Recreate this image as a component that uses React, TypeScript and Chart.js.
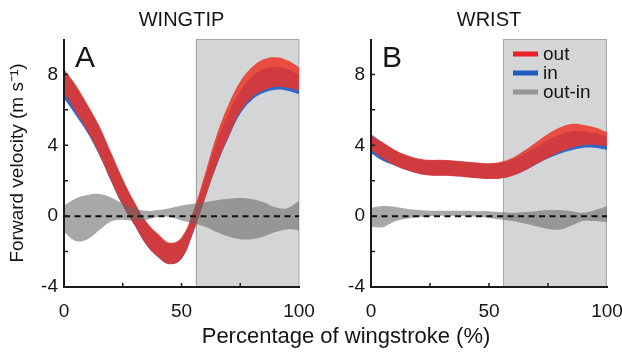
import React, { useEffect, useRef } from 'react';
import { Chart, registerables } from 'chart.js';

Chart.register(...registerables);

const FONT = '"Liberation Sans", Arial, Helvetica, sans-serif';

// ---- data ----
const xs = [0, 5, 10, 15, 20, 25, 30, 35, 40, 45, 50, 55, 60, 65, 70, 75, 80, 85, 90, 95, 100];

const wingtipOutUpper = [8.3, 7.4, 6.3, 5.1, 3.6, 2.1, 0.8, -0.3, -1.0, -1.5, -1.2, 0.3, 2.4, 4.6, 6.3, 7.6, 8.4, 8.85, 8.97, 8.8, 8.4];
const wingtipOutLower = [7.0, 5.9, 4.8, 3.5, 2.0, 0.6, -0.5, -1.6, -2.3, -2.7, -2.4, -0.9, 1.0, 2.9, 4.5, 5.9, 6.7, 7.1, 7.3, 7.25, 7.1];
const wingtipInUpper = [8.25, 7.35, 6.25, 5.05, 3.55, 2.05, 0.75, -0.35, -1.05, -1.55, -1.25, 0.15, 2.15, 4.2, 5.8, 7.05, 7.85, 8.3, 8.42, 8.3, 7.95];
const wingtipInLower = [6.65, 5.7, 4.7, 3.45, 1.97, 0.58, -0.52, -1.62, -2.32, -2.72, -2.42, -0.92, 0.98, 2.86, 4.42, 5.78, 6.56, 6.96, 7.14, 7.08, 6.88];
const wingtipDiffUpper = [0.6, 1.0, 1.2, 1.25, 1.05, 0.7, 0.45, 0.3, 0.35, 0.45, 0.6, 0.7, 0.78, 0.9, 0.98, 1.02, 0.95, 0.78, 0.5, 0.45, 0.85];
const wingtipDiffLower = [-0.9, -1.4, -1.3, -0.8, -0.3, -0.2, -0.25, -0.2, -0.05, -0.05, -0.25, -0.4, -0.6, -0.9, -1.15, -1.3, -1.3, -1.15, -0.9, -0.75, -0.8];

const wristOutUpper = [4.55, 4.17, 3.75, 3.45, 3.26, 3.18, 3.18, 3.14, 3.09, 3.03, 2.99, 3.07, 3.3, 3.7, 4.17, 4.64, 5.0, 5.2, 5.15, 5.0, 4.73];
const wristOutLower = [3.75, 3.25, 2.88, 2.6, 2.4, 2.3, 2.28, 2.25, 2.2, 2.14, 2.1, 2.13, 2.28, 2.56, 2.94, 3.3, 3.62, 3.85, 4.0, 4.02, 3.95];
const wristInUpper = [4.62, 4.15, 3.72, 3.42, 3.23, 3.15, 3.15, 3.11, 3.06, 3.0, 2.96, 3.02, 3.2, 3.52, 3.9, 4.3, 4.6, 4.78, 4.78, 4.68, 4.5];
const wristInLower = [3.55, 3.12, 2.86, 2.6, 2.41, 2.31, 2.29, 2.26, 2.21, 2.15, 2.11, 2.14, 2.29, 2.56, 2.92, 3.25, 3.52, 3.72, 3.86, 3.86, 3.74];
const wristDiffUpper = [0.47, 0.57, 0.53, 0.42, 0.34, 0.3, 0.3, 0.3, 0.3, 0.28, 0.28, 0.23, 0.19, 0.23, 0.28, 0.34, 0.34, 0.28, 0.19, 0.34, 0.57];
const wristDiffLower = [-0.6, -0.62, -0.3, -0.15, -0.05, 0.0, 0.02, 0.02, 0.0, -0.02, -0.1, -0.19, -0.28, -0.42, -0.57, -0.72, -0.76, -0.53, -0.28, -0.28, -0.34];

const seriesLabels = ['out', 'in', 'out-in'];
const panelTitles = ['WINGTIP', 'WRIST'];
const panelLetters = ['A', 'B'];
const xTickLabels = [0, 50, 100];
const yTickLabels = [-4, 0, 4, 8];
const xRange = [0, 100];
const yRange = [-4, 10];
const shadeRange = [56, 100];
const zeroLine = [0, 0];
const yAxisTitle = 'Forward velocity (m s\u207B\u00B9)';
const xAxisTitle = 'Percentage of wingstroke (%)';

// ---- styles ----
const COLORS = {
  outFill: 'rgba(236,52,38,0.85)',
  inFill: 'rgb(45,105,200)',
  diffFill: 'rgba(105,105,105,0.58)',
  legend: ['rgb(235,32,40)', 'rgb(30,92,190)', 'rgb(150,150,150)'],
  shade: '#d4d5d7',
  axis: '#1a1a1a',
  text: '#151515',
};

const pts = (arr: number[]) => xs.map((x, i) => ({ x, y: arr[i] }));

function bandDatasets(label: string, upper: number[], lower: number[], color: string) {
  const base = { pointRadius: 0, borderWidth: 0, tension: 0.4, borderColor: 'rgba(0,0,0,0)' };
  return [
    { ...base, label, data: pts(upper), fill: '+1', backgroundColor: color },
    { ...base, label: label + ' lower', data: pts(lower), fill: false, backgroundColor: color },
  ];
}

const framePlugin = {
  id: 'frame',
  beforeDraw(chart: any, _args: any, opts: any) {
    const { ctx, scales } = chart;
    const x = scales.x, y = scales.y;
    ctx.save();
    const x0 = x.getPixelForValue(opts.shade[0]);
    const x1 = x.getPixelForValue(opts.shade[1]);
    const yt = y.getPixelForValue(yRange[1]);
    const yb = y.getPixelForValue(yRange[0]);
    ctx.fillStyle = COLORS.shade;
    ctx.fillRect(x0, yt, x1 - x0, yb - yt);
    ctx.strokeStyle = 'rgba(160,160,162,0.9)';
    ctx.lineWidth = 1;
    ctx.strokeRect(Math.round(x0) + 0.5, Math.round(yt) + 0.5, x1 - x0 - 1, yb - yt - 1);
    ctx.restore();
  },
  afterDraw(chart: any, _args: any, opts: any) {
    const { ctx, chartArea: a, scales } = chart;
    const x = scales.x, y = scales.y;
    ctx.save();
    ctx.strokeStyle = COLORS.axis;
    ctx.lineWidth = 2;
    ctx.beginPath();
    ctx.moveTo(a.left, a.top);
    ctx.lineTo(a.left, a.bottom);
    ctx.lineTo(a.right + 1, a.bottom);
    ctx.stroke();
    ctx.lineWidth = 1.5;
    ctx.beginPath();
    for (let v = yRange[0] + 2; v <= yRange[1] - 2; v += 2) {
      const py = y.getPixelForValue(v);
      ctx.moveTo(a.left, py);
      ctx.lineTo(a.left + 4, py);
    }
    for (let v = xRange[0] + 25; v <= xRange[1] - 25; v += 25) {
      const px = x.getPixelForValue(v);
      ctx.moveTo(px, a.bottom);
      ctx.lineTo(px, a.bottom - 4);
    }
    ctx.stroke();
    ctx.fillStyle = COLORS.text;
    ctx.font = `30px ${FONT}`;
    ctx.textBaseline = 'alphabetic';
    ctx.textAlign = 'left';
    ctx.fillText(opts.letter, a.left + 11, a.top + 28);
    if (opts.legend) {
      ctx.font = `19px ${FONT}`;
      ctx.textBaseline = 'middle';
      seriesLabels.forEach((lab, i) => {
        const yy = a.top + 15 + i * 19;
        const lx = a.right - 94;
        ctx.strokeStyle = COLORS.legend[i];
        ctx.lineWidth = 5;
        ctx.beginPath();
        ctx.moveTo(lx, yy);
        ctx.lineTo(lx + 25, yy);
        ctx.stroke();
        ctx.fillStyle = COLORS.text;
        ctx.fillText(lab, lx + 30, yy + 1);
      });
    }
    ctx.restore();
  },
};

type PanelCfg = {
  idx: number;
  outU: number[]; outL: number[];
  inU: number[]; inL: number[];
  dU: number[]; dL: number[];
  yAxisWidth: number;
  padRight: number;
  showYTitle: boolean;
  legend: boolean;
};

function makeConfig(p: PanelCfg): any {
  const datasets = [
    {
      label: 'zero', data: [{ x: xRange[0], y: zeroLine[0] }, { x: xRange[1], y: zeroLine[1] }],
      borderColor: '#111', borderWidth: 2, borderDash: [6, 4.5], pointRadius: 0, fill: false, tension: 0,
    },
    ...bandDatasets(seriesLabels[2], p.dU, p.dL, COLORS.diffFill),
    ...bandDatasets(seriesLabels[0], p.outU, p.outL, COLORS.outFill),
    ...bandDatasets(seriesLabels[1], p.inU, p.inL, COLORS.inFill),
  ];
  return {
    type: 'line',
    data: { datasets },
    plugins: [framePlugin],
    options: {
      animation: false,
      responsive: false,
      events: [],
      layout: { padding: { left: 0, right: p.padRight, top: 0, bottom: 0 } },
      plugins: {
        legend: { display: false },
        tooltip: { enabled: false },
        title: {
          display: true,
          text: panelTitles[p.idx],
          fullSize: false,
          color: COLORS.text,
          font: { family: FONT, size: 20, weight: 'normal' },
          padding: { top: 8, bottom: 7 },
        },
        frame: { shade: shadeRange, letter: panelLetters[p.idx], legend: p.legend },
      },
      scales: {
        x: {
          type: 'linear',
          min: xRange[0],
          max: xRange[1],
          grid: { display: true, drawOnChartArea: false, drawTicks: false, color: 'rgba(0,0,0,0)' },
          border: { display: false },
          ticks: {
            stepSize: 25,
            padding: 13,
            color: COLORS.text,
            font: { family: FONT, size: 19 },
            maxRotation: 0,
            autoSkip: false,
            callback: (v: number) => (xTickLabels.includes(v) ? String(v) : ''),
          },
          afterFit: (s: any) => {
            s.height = 65;
            s.paddingLeft = 0;
            s.paddingRight = 0;
          },
        },
        y: {
          type: 'linear',
          min: yRange[0],
          max: yRange[1],
          grid: { display: true, drawOnChartArea: false, drawTicks: false, color: 'rgba(0,0,0,0)' },
          border: { display: false },
          title: {
            display: p.showYTitle,
            text: yAxisTitle,
            color: COLORS.text,
            font: { family: FONT, size: 19 },
            padding: { top: 6, bottom: 0 },
          },
          ticks: {
            stepSize: 2,
            padding: 6,
            color: COLORS.text,
            font: { family: FONT, size: 19 },
            autoSkip: false,
            callback: (v: number) => (yTickLabels.includes(v) ? String(v) : ''),
          },
          afterFit: (s: any) => {
            s.width = p.yAxisWidth;
            s.paddingTop = 0;
            s.paddingBottom = 0;
          },
        },
      },
    },
  };
}

function Panel({ cfg, left, width }: { cfg: PanelCfg; left: number; width: number }) {
  const ref = useRef<HTMLCanvasElement | null>(null);
  useEffect(() => {
    if (!ref.current) return;
    const chart = new Chart(ref.current, makeConfig(cfg));
    return () => chart.destroy();
  }, []);
  return (
    <canvas
      ref={ref}
      width={width}
      height={352}
      style={{ position: 'absolute', left, top: 0, width, height: 352, display: 'block' }}
    />
  );
}

export default function App() {
  const panelA: PanelCfg = {
    idx: 0,
    outU: wingtipOutUpper, outL: wingtipOutLower,
    inU: wingtipInUpper, inL: wingtipInLower,
    dU: wingtipDiffUpper, dL: wingtipDiffLower,
    yAxisWidth: 64, padRight: 23, showYTitle: true, legend: false,
  };
  const panelB: PanelCfg = {
    idx: 1,
    outU: wristOutUpper, outL: wristOutLower,
    inU: wristInUpper, inL: wristInLower,
    dU: wristDiffUpper, dL: wristDiffLower,
    yAxisWidth: 61, padRight: 15, showYTitle: false, legend: true,
  };
  return (
    <div
      style={{
        position: 'fixed', left: 0, top: 0, width: 622, height: 352,
        background: '#fff', overflow: 'hidden', fontFamily: FONT,
      }}
    >
      <Panel cfg={panelA} left={0} width={322} />
      <Panel cfg={panelB} left={310} width={312} />
      <div
        style={{
          position: 'absolute', left: 346, top: 325, transform: 'translateX(-50%)',
          fontSize: 22, lineHeight: '22px', color: COLORS.text, whiteSpace: 'nowrap',
        }}
      >
        {xAxisTitle}
      </div>
    </div>
  );
}
